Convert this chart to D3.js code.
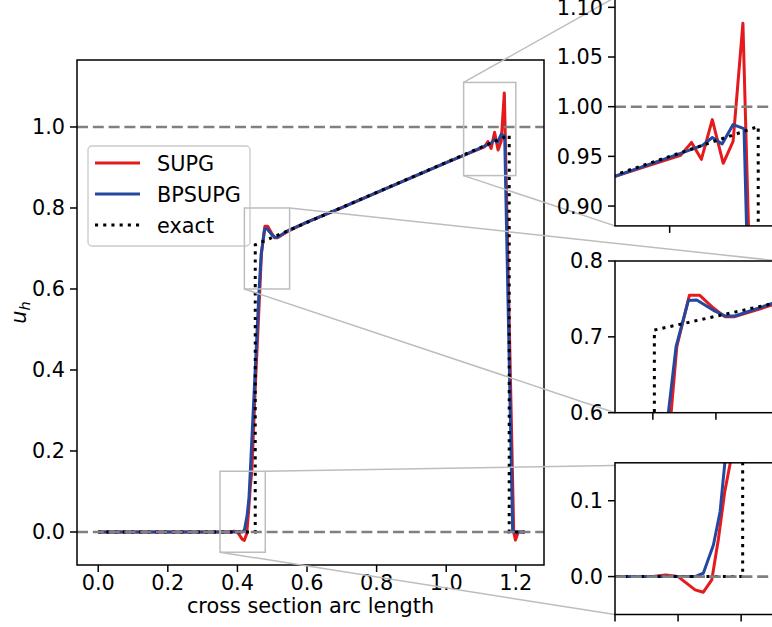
<!DOCTYPE html>
<html>
<head>
    <meta charset="utf-8">
    <title>Cross section u_h</title>
    <script src="https://d3js.org/d3.v7.min.js"></script>
    <style>
        html, body {
            margin: 0;
            background: white;
        }
        text {
            font-family: "DejaVu Sans", sans-serif;
        }
    </style>
</head>
<body>
    <svg id="svg"></svg>
    <script>
        // values: [arc length, u_h]
        const supgPoints = [
            [0, 0], [0.38, 0], [0.39, 0.002], [0.40, 0], [0.4135, -0.0175], [0.420, -0.0206],
            [0.4267, -0.0044], [0.432, 0.050], [0.437, 0.112], [0.4413, 0.149], [0.452, 0.37],
            [0.4645, 0.60], [0.469, 0.687], [0.479, 0.755], [0.487, 0.755], [0.498, 0.738],
            [0.507, 0.7266], [0.515, 0.7266], [0.5446, 0.742], [0.6, 0.765], [0.7, 0.801],
            [0.8, 0.838], [0.9, 0.875], [1.0, 0.912], [1.05, 0.930], [1.11, 0.951],
            [1.120, 0.964], [1.129, 0.947], [1.139, 0.987], [1.149, 0.943], [1.158, 0.965],
            [1.167, 1.084], [1.194, 0], [1.199, -0.02], [1.207, 0], [1.225, 0]
        ];
        const bpsupgPoints = [
            [0, 0], [0.4135, 0], [0.420, 0.0044], [0.428, 0.0417], [0.4333, 0.0855],
            [0.437, 0.149], [0.45, 0.38], [0.4623, 0.60], [0.4684, 0.687], [0.4782, 0.748],
            [0.4848, 0.7486], [0.498, 0.735], [0.5073, 0.7275], [0.515, 0.7275], [0.5446, 0.744],
            [0.6, 0.765], [0.7, 0.801], [0.8, 0.838], [0.9, 0.875], [1.0, 0.912], [1.05, 0.930],
            [1.110, 0.953], [1.130, 0.961], [1.139, 0.969], [1.148, 0.9625], [1.158, 0.982],
            [1.168, 0.978], [1.191, 0], [1.225, 0]
        ];
        const exactPoints = [
            [0, 0], [0.4512, 0], [0.4512, 0.709], [1.181, 0.980], [1.181, 0], [1.225, 0]
        ];
        const refLevels = [0, 1];

        const legendNames = ["SUPG", "BPSUPG", "exact"];
        const xTicks = [0, 0.2, 0.4, 0.6, 0.8, 1.0, 1.2];
        const yTicks = [0, 0.2, 0.4, 0.6, 0.8, 1.0];

        // zoom windows: [x0, x1, y0, y1]
        const zoomTop = [1.05, 1.20, 0.88, 1.11];
        const zoomMid = [0.42, 0.55, 0.6, 0.8];
        const zoomBot = [0.35, 0.48, -0.05, 0.15];
        const topXTicks = [1.1, 1.2];
        const topYTicks = [0.90, 0.95, 1.00, 1.05, 1.10];
        const midXTicks = [0.45, 0.50, 0.55];
        const midYTicks = [0.6, 0.7, 0.8];
        const botXTicks = [0.35, 0.40, 0.45];
        const botYTicks = [0.0, 0.1];

        const red = "#e41a1c";
        const blue = "#2448a0";
        const boxGray = "#bdbdbd";
        const fontSize = 20.8;

        const width = 772;
        const height = 627;

        const svg = d3.select("#svg")
        .attr("width", width)
        .attr("height", height);

        const main = { left: 77, right: 544, top: 60, bottom: 565 };

        const x = d3.scaleLinear().domain([-0.061, 1.281]).range([main.left, main.right]);
        const y = d3.scaleLinear().domain([-0.0815, 1.1654]).range([main.bottom, main.top]);

        let clipCount = 0;

        function drawPanel(g, xs, ys, box) {
            const id = "clip" + (clipCount++);
            g.append("clipPath").attr("id", id)
            .append("rect")
            .attr("x", box.left).attr("y", box.top)
            .attr("width", box.right - box.left).attr("height", box.bottom - box.top);

            g.append("rect")
            .attr("x", box.left).attr("y", box.top)
            .attr("width", box.right - box.left).attr("height", box.bottom - box.top)
            .attr("fill", "white");

            const plot = g.append("g").attr("clip-path", `url(#${id})`);
            const line = d3.line().x(d => xs(d[0])).y(d => ys(d[1]));

            plot.append("path").datum(supgPoints)
            .attr("d", line).attr("fill", "none")
            .attr("stroke", red).attr("stroke-width", 3)
            .attr("stroke-linejoin", "round");

            plot.append("path").datum(bpsupgPoints)
            .attr("d", line).attr("fill", "none")
            .attr("stroke", blue).attr("stroke-width", 3)
            .attr("stroke-linejoin", "round");

            plot.append("path").datum(exactPoints)
            .attr("d", line).attr("fill", "none")
            .attr("stroke", "black").attr("stroke-width", 3)
            .attr("stroke-dasharray", "3.1,5.1");

            plot.selectAll("line.ref")
            .data(refLevels)
            .enter()
            .append("line")
            .attr("class", "ref")
            .attr("x1", box.left).attr("x2", box.right)
            .attr("y1", d => ys(d)).attr("y2", d => ys(d))
            .attr("stroke", "#808080").attr("stroke-width", 2.6)
            .attr("stroke-dasharray", "11,4.8");

            g.append("rect")
            .attr("x", box.left).attr("y", box.top)
            .attr("width", box.right - box.left).attr("height", box.bottom - box.top)
            .attr("fill", "none").attr("stroke", "black").attr("stroke-width", 1.5);
        }

        function drawTicks(g, xs, ys, box, xt, yt, xFmt, yFmt) {
            g.selectAll("line.xt").data(xt).enter()
            .append("line").attr("class", "xt")
            .attr("x1", d => xs(d)).attr("x2", d => xs(d))
            .attr("y1", box.bottom).attr("y2", box.bottom + 7)
            .attr("stroke", "black").attr("stroke-width", 1.5);

            g.selectAll("line.yt").data(yt).enter()
            .append("line").attr("class", "yt")
            .attr("x1", box.left - 7).attr("x2", box.left)
            .attr("y1", d => ys(d)).attr("y2", d => ys(d))
            .attr("stroke", "black").attr("stroke-width", 1.5);

            if (xFmt) {
                g.selectAll("text.xl").data(xt).enter()
                .append("text").attr("class", "xl")
                .attr("x", d => xs(d)).attr("y", box.bottom + 25)
                .attr("text-anchor", "middle")
                .attr("font-size", fontSize)
                .text(xFmt);
            }

            g.selectAll("text.yl").data(yt).enter()
            .append("text").attr("class", "yl")
            .attr("x", box.left - 12).attr("y", d => ys(d))
            .attr("dy", "0.36em")
            .attr("text-anchor", "end")
            .attr("font-size", fontSize)
            .text(yFmt);
        }

        // main axes
        const mainG = svg.append("g");
        drawPanel(mainG, x, y, main);
        drawTicks(mainG, x, y, main, xTicks, yTicks, d3.format(".1f"), d3.format(".1f"));

        mainG.append("text")
        .attr("x", (main.left + main.right) / 2)
        .attr("y", 613)
        .attr("text-anchor", "middle")
        .attr("font-size", fontSize)
        .text("cross section arc length");

        const ylab = mainG.append("text")
        .attr("transform", `translate(26, ${(main.top + main.bottom) / 2}) rotate(-90)`)
        .attr("text-anchor", "middle")
        .attr("font-size", fontSize)
        .attr("font-style", "italic");
        ylab.append("tspan").text("u");
        ylab.append("tspan").attr("font-size", 14.6).attr("dy", 4).text("h");

        // legend
        const legend = svg.append("g");
        legend.append("rect")
        .attr("x", 88).attr("y", 146).attr("width", 162).attr("height", 100)
        .attr("rx", 4)
        .attr("fill", "white").attr("fill-opacity", 0.8)
        .attr("stroke", "#cccccc").attr("stroke-width", 1.4);

        const legendStyles = [
            { color: red, dash: null },
            { color: blue, dash: null },
            { color: "black", dash: "3.1,5.1" }
        ];

        const rows = legend.selectAll("g.row")
        .data(legendNames)
        .enter()
        .append("g")
        .attr("transform", (d, i) => `translate(0, ${163 + i * 31})`);

        rows.append("line")
        .attr("x1", 95).attr("x2", 140)
        .attr("stroke", (d, i) => legendStyles[i].color)
        .attr("stroke-width", 3)
        .attr("stroke-dasharray", (d, i) => legendStyles[i].dash);

        rows.append("text")
        .attr("x", 157).attr("dy", "0.36em")
        .attr("font-size", fontSize)
        .text(d => d);

        // insets
        const insetLeft = 615, insetRight = 779;
        const insets = [
            { zoom: zoomTop, top: -2.6, bottom: 225.9, xt: topXTicks, yt: topYTicks, fmt: d3.format(".2f"), corners: ["ul", "ll"] },
            { zoom: zoomMid, top: 261, bottom: 412.7, xt: midXTicks, yt: midYTicks, fmt: d3.format(".1f"), corners: ["ur", "ll"] },
            { zoom: zoomBot, top: 462.8, bottom: 614.5, xt: botXTicks, yt: botYTicks, fmt: d3.format(".1f"), corners: ["ur", "ll"] }
        ];

        const markG = svg.append("g");
        const insetG = svg.append("g");

        insets.forEach(ins => {
            const [x0, x1, y0, y1] = ins.zoom;
            const box = { left: insetLeft, right: insetRight, top: ins.top, bottom: ins.bottom };
            const xs = d3.scaleLinear().domain([x0, x1]).range([box.left, box.right]);
            const ys = d3.scaleLinear().domain([y0, y1]).range([box.bottom, box.top]);

            // zoom rectangle on the main axes
            markG.append("rect")
            .attr("x", x(x0)).attr("y", y(y1))
            .attr("width", x(x1) - x(x0)).attr("height", y(y0) - y(y1))
            .attr("fill", "none").attr("stroke", boxGray).attr("stroke-width", 1.5);

            const rectCorner = {
                ul: [x(x0), y(y1)], ur: [x(x1), y(y1)],
                ll: [x(x0), y(y0)], lr: [x(x1), y(y0)]
            };
            const insetCorner = {
                ul: [box.left, box.top], ur: [box.right, box.top],
                ll: [box.left, box.bottom], lr: [box.right, box.bottom]
            };
            ins.corners.forEach(c => {
                markG.append("line")
                .attr("x1", rectCorner[c][0]).attr("y1", rectCorner[c][1])
                .attr("x2", insetCorner[c][0]).attr("y2", insetCorner[c][1])
                .attr("stroke", boxGray).attr("stroke-width", 1.5);
            });

            const g = insetG.append("g");
            drawPanel(g, xs, ys, box);
            drawTicks(g, xs, ys, box, ins.xt, ins.yt, null, ins.fmt);
        });
    </script>
</body>
</html>
